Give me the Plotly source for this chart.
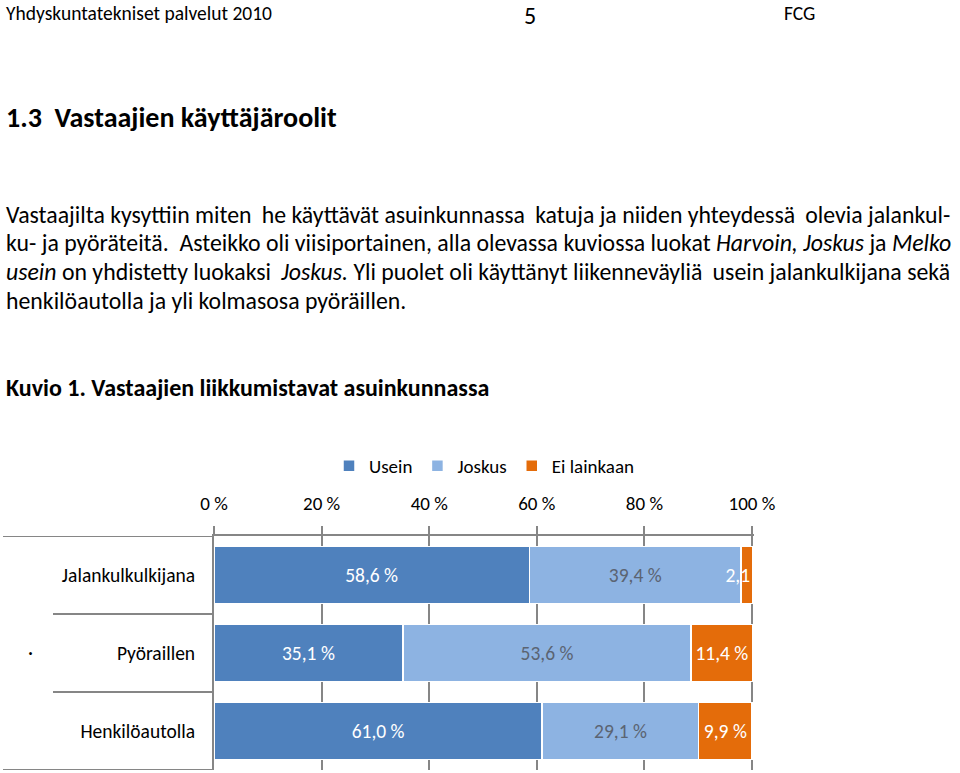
import plotly.graph_objects as go

categories = ["Jalankulkulkijana", "Pyöraillen", "Henkilöautolla"]
series_names = ["Usein", "Joskus", "Ei lainkaan"]
usein = [58.6, 35.1, 61.0]
joskus = [39.4, 53.6, 29.1]
ei_lainkaan = [2.1, 11.4, 9.9]
tick_values = [0, 20, 40, 60, 80, 100]
tick_labels = ["0 %", "20 %", "40 %", "60 %", "80 %", "100 %"]

colors = ["#4F81BD", "#8DB3E2", "#E46C0A"]
label_colors = ["#FFFFFF", "#5B6472", "#FFFFFF"]
FONT = "Carlito, Lato, sans-serif"
W, H = 960, 773
XMAX = 100.3


def px(x):
    return x / W


def py(y):
    return 1 - y / H


def fmt(v):
    return f"{v:.1f}".replace(".", ",") + " %"


fig = go.Figure()
for name, vals, col, lcol in zip(series_names, [usein, joskus, ei_lainkaan], colors, label_colors):
    fig.add_trace(go.Bar(
        name=name, y=categories, x=vals, orientation="h",
        marker=dict(color=col, line=dict(color="white", width=1.5)),
        text=[fmt(v) for v in vals], textposition="inside",
        insidetextanchor="middle", textangle=0, constraintext="none",
        insidetextfont=dict(color=lcol, size=19.5, family=FONT),
        cliponaxis=True,
    ))

x0, x1 = px(214), px(214 + 538 * XMAX / 100)
yb, yt = py(770), py(536)

fig.update_layout(
    width=W, height=H, autosize=False,
    margin=dict(l=0, r=0, t=0, b=0, autoexpand=False),
    paper_bgcolor="white", plot_bgcolor="white",
    barmode="stack", bargap=0.27,
    font=dict(family=FONT, size=19, color="black"),
    showlegend=True,
    legend=dict(orientation="h", x=px(484), xanchor="center", y=py(466), yanchor="middle",
                font=dict(size=19, family=FONT), itemwidth=30, traceorder="normal"),
    xaxis=dict(domain=[x0, x1], range=[0, XMAX], side="top", tickvals=tick_values,
               ticktext=tick_labels, ticks="outside", ticklen=8, tickwidth=2,
               tickcolor="#868686", showline=True, linecolor="#868686", linewidth=2,
               showgrid=True, gridcolor="#868686", gridwidth=2, zeroline=False,
               tickfont=dict(size=19), ticklabelstandoff=8, automargin=False,
               fixedrange=True),
    yaxis=dict(domain=[yb, yt], range=[2.5, -0.5], categoryorder="array",
               categoryarray=categories, showline=True, linecolor="#868686",
               linewidth=2, ticks="", ticklabelstandoff=13, tickfont=dict(size=19.5),
               showgrid=False, zeroline=False, automargin=False, fixedrange=True),
)

# category separators (Excel-style category axis lines)
line_style = dict(color="#868686", width=2)
fig.add_shape(type="line", xref="paper", yref="y", x0=px(3), x1=x0, y0=-0.5, y1=-0.5, line=line_style)
fig.add_shape(type="line", xref="paper", yref="y", x0=px(3), x1=x0, y0=2.5, y1=2.5, line=line_style)
for b in [0.5, 1.5]:
    fig.add_shape(type="line", xref="paper", yref="y", x0=px(53), x1=x0, y0=b, y1=b, line=line_style)


def note(text, x, y, size, anchor="left", bold=False):
    fig.add_annotation(text=f"<b>{text}</b>" if bold else text, x=px(x), y=py(y),
                       xref="paper", yref="paper", xanchor=anchor, yanchor="middle",
                       showarrow=False, font=dict(size=size, family=FONT, color="black"))


note("Yhdyskuntatekniset palvelut 2010", 4, 13, 19.5)
note("5", 530, 15, 24, anchor="center")
note("FCG", 799, 13, 19.5, anchor="center")
note("1.3  Vastaajien käyttäjäroolit", 4, 117, 28, bold=True)

TS = "\u2009"  # thin space used to stretch the justified lines
para = [
    f"Vastaajilta kysyttiin miten {TS}he käyttävät asuinkunnassa {TS}katuja ja niiden yhteydessä {TS}olevia jalankul-",
    "ku- ja pyöräteitä.  Asteikko oli viisiportainen, alla olevassa kuviossa luokat <i>Harvoin, Joskus</i> ja <i>Melko</i>",
    f"<i>usein</i> on yhdistetty luokaksi {TS}<i>Joskus.</i> Yli puolet oli käyttänyt liikenneväyliä {TS}usein jalankulkijana sekä",
    "henkilöautolla ja yli kolmasosa pyöräillen.",
]
for i, line in enumerate(para):
    note(line, 4, 214 + i * 28.7, 23.8)

note("Kuvio 1. Vastaajien liikkumistavat asuinkunnassa", 4, 387, 24, bold=True)
note("·", 30, 652, 20, anchor="center")

fig.write_html("out.html", config={"displayModeBar": False},
               post_script="document.body.style.margin='0';")
